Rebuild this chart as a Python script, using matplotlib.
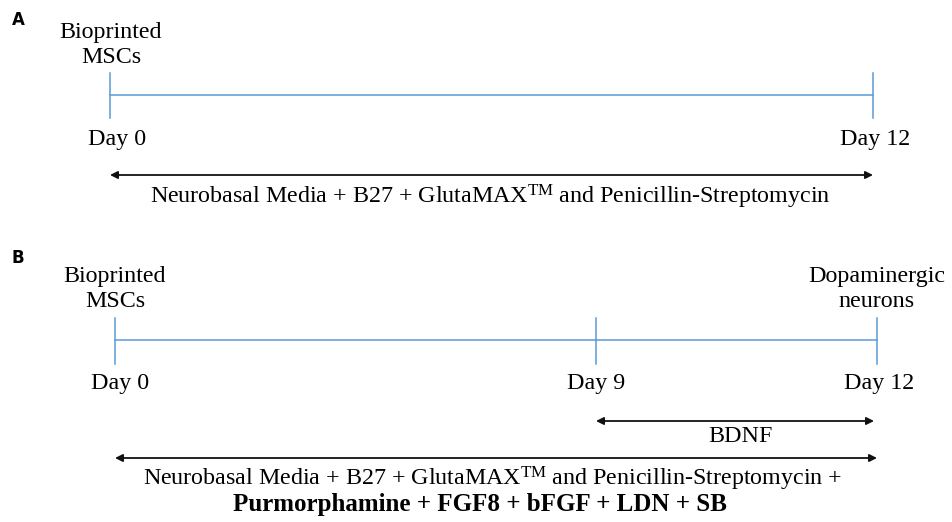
import matplotlib
matplotlib.use("Agg")
import matplotlib.pyplot as plt

plt.rcParams['mathtext.fontset'] = 'custom'
plt.rcParams['mathtext.rm'] = 'Liberation Serif'
plt.rcParams['mathtext.it'] = 'Liberation Serif:italic'
plt.rcParams['mathtext.bf'] = 'Liberation Serif:bold'

# ---- data ----
panel_labels = ["A", "B"]
a_days = [0, 12]
a_day_labels = ["Day 0", "Day 12"]
a_top_labels = ["Bioprinted\nMSCs", ""]
a_media = "Neurobasal Media + B27 + GlutaMAX$^{\\mathrm{TM}}$ and Penicillin-Streptomycin"

b_days = [0, 9, 12]
b_day_labels = ["Day 0", "Day 9", "Day 12"]
b_top_labels = ["Bioprinted\nMSCs", "", "Dopaminergic\nneurons"]
b_bdnf = "BDNF"
b_bdnf_span = [9, 12]
b_media_line1 = "Neurobasal Media + B27 + GlutaMAX$^{\\mathrm{TM}}$ and Penicillin-Streptomycin +"
b_media_line2 = "Purmorphamine + FGF8 + bFGF + LDN + SB"

# ---- layout (pixel positions of timepoints) ----
a_xpos = {0: 110, 12: 873}
b_xpos = {0: 115, 9: 596, 12: 877}
a_daylabel_dx = {0: 7, 12: 2}
b_daylabel_dx = {0: 5, 9: 0, 12: 2}

BLUE = "#5b9bd5"
FONT = "Liberation Serif"
FS = 17.3

fig = plt.figure(figsize=(9.53, 5.22), dpi=100)
ax = fig.add_axes([0, 0, 1, 1])
ax.set_xlim(0, 953)
ax.set_ylim(522, 0)
ax.axis("off")

def arrow(x0, x1, y):
    ax.annotate("", xy=(x1, y), xytext=(x0, y),
                arrowprops=dict(arrowstyle="<|-|>", color="#111111", lw=1.3,
                                mutation_scale=11, shrinkA=0, shrinkB=0))

# Panel A
ax.text(18, 20, panel_labels[0], fontsize=12, fontweight="bold",
        family="DejaVu Sans", ha="center", va="center")
yl = 95
xs = [a_xpos[d] for d in a_days]
ax.plot([xs[0], xs[-1]], [yl, yl], color=BLUE, lw=1.1)
for d, lab, top in zip(a_days, a_day_labels, a_top_labels):
    x = a_xpos[d]
    ax.plot([x, x], [73, 118], color=BLUE, lw=1.1)
    ax.text(x + a_daylabel_dx[d], 139, lab, fontsize=FS, family=FONT,
            ha="center", va="center")
    if top:
        ax.text(x + 1, 45, top, fontsize=FS, family=FONT, ha="center",
                va="center", linespacing=1.2)
arrow(xs[0], xs[-1], 175)
ax.text(490, 197, a_media, fontsize=FS, family=FONT, ha="center", va="center")

# Panel B
ax.text(18, 258, panel_labels[1], fontsize=12, fontweight="bold",
        family="DejaVu Sans", ha="center", va="center")
yl = 340
xs = [b_xpos[d] for d in b_days]
ax.plot([xs[0], xs[-1]], [yl, yl], color=BLUE, lw=1.1)
for d, lab, top in zip(b_days, b_day_labels, b_top_labels):
    x = b_xpos[d]
    ax.plot([x, x], [318, 364], color=BLUE, lw=1.1)
    ax.text(x + b_daylabel_dx[d], 383, lab, fontsize=FS, family=FONT,
            ha="center", va="center")
    if top:
        ax.text(x, 289, top, fontsize=FS, family=FONT,
                ha="center", va="center", linespacing=1.2)
arrow(b_xpos[b_bdnf_span[0]], b_xpos[b_bdnf_span[1]] - 3, 421)
ax.text(740, 437, b_bdnf, fontsize=FS, family=FONT, ha="center", va="center")
arrow(xs[0], xs[-1], 458)
ax.text(493, 479, b_media_line1, fontsize=FS, family=FONT, ha="center", va="center")
ax.text(480, 505, b_media_line2, fontsize=18, family=FONT, fontweight="bold",
        ha="center", va="center")

fig.savefig("out.png", dpi=100, facecolor="white")
